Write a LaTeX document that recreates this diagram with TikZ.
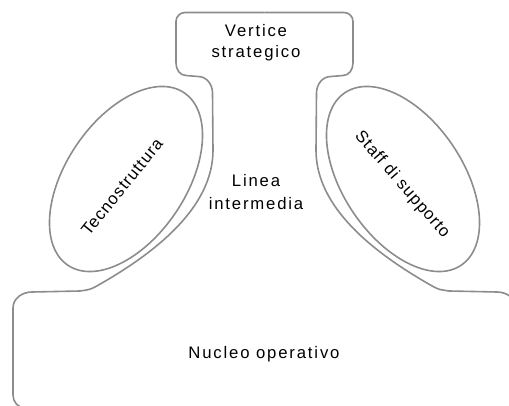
\documentclass[tikz,border=0pt]{standalone}
\usepackage{fontspec}
\newfontfamily\mzlab[LetterSpace=11]{Liberation Sans}
\newfontfamily\mzrot[LetterSpace=6]{Liberation Sans}
\definecolor{linegray}{RGB}{140,140,140}
\def\mzhalf{(264.5,392.5) -- (185,392.5) to[out=180,in=90] (176,383.5) -- (176,342) to[out=-90,in=180] (186,329.5) -- (198,328.5) to[out=0,in=90] (212.5,312) -- (213,255) .. controls (213,205) and (170,160) .. (95,118) .. controls (90,115.5) .. (80,114) -- (32,113) to[out=180,in=90] (13,97) -- (13,10) to[out=-90,in=180] (25,-3)}
\begin{document}
\begin{tikzpicture}[x=1pt,y=1pt,
  outline/.style={draw=linegray,line width=1.6pt,line join=round},
  txt/.style={font=\mzlab\fontsize{16.7}{20.6}\selectfont,inner sep=0pt,text=black},
  rottxt/.style={font=\mzrot\fontsize{16.7}{20.6}\selectfont,inner sep=0pt,text=black}]
\useasboundingbox (0,0) rectangle (509,405);
\clip (0,0) rectangle (509,405);
% outer contour: strategic apex, middle line, operating core
\draw[outline] \mzhalf;
\begin{scope}[xshift=529pt,xscale=-1]
  \draw[outline] \mzhalf;
\end{scope}
% technostructure and support staff
\draw[outline,rotate around={56:(126,226)}] (126,226) ellipse[x radius=104,y radius=60];
\draw[outline,rotate around={-56:(403,226)}] (403,226) ellipse[x radius=104,y radius=60];
% labels
\node[txt,align=center] (vertice) at (256,362.3) {Vertice\\strategico};
\node[txt,align=center] (linea) at (256,213.3) {Linea\\[2.7pt]intermedia};
\node[txt,anchor=base] (nucleo) at (264,46.7) {Nucleo operativo};
\node[rottxt,rotate=51] (tecno) at (122,218) {Tecnostruttura};
\node[rottxt,rotate=-49] (staff) at (402,220) {Staff di supporto};
\end{tikzpicture}
\end{document}
